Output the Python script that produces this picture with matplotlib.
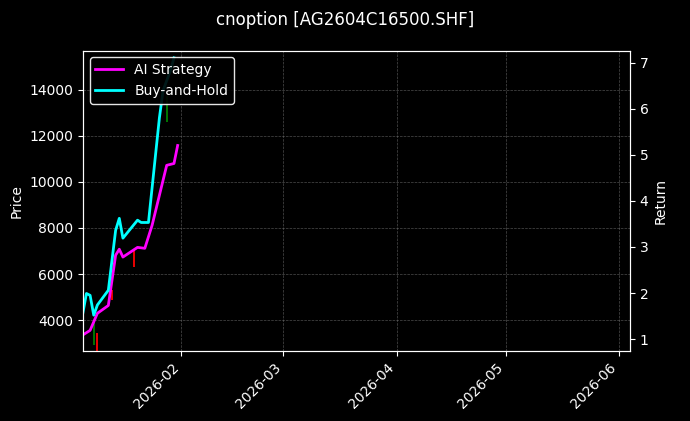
import pandas as pd
import matplotlib.pyplot as plt
import matplotlib.dates as mdates

# AI strategy / buy-and-hold returns
ai_dates = ['2026-01-05', '2026-01-07', '2026-01-09', '2026-01-12', '2026-01-14', '2026-01-15',
            '2026-01-16', '2026-01-20', '2026-01-22', '2026-01-24', '2026-01-28', '2026-01-30', '2026-01-31']
ai_ret = [1.09, 1.19, 1.56, 1.73, 2.82, 2.95, 2.78, 2.99, 2.97, 3.47, 4.77, 4.81, 5.20]

bh_dates = ['2026-01-05', '2026-01-06', '2026-01-07', '2026-01-08', '2026-01-09', '2026-01-12',
            '2026-01-14', '2026-01-15', '2026-01-16', '2026-01-20', '2026-01-21', '2026-01-23',
            '2026-01-26', '2026-01-27', '2026-01-29', '2026-01-30']
bh_ret = [1.56, 1.99, 1.95, 1.52, 1.74, 2.06, 3.36, 3.62, 3.19, 3.58, 3.53, 3.53, 5.80, 6.39, 6.82, 7.10]

# visible candle wicks (price)
c_dates = ['2026-01-05', '2026-01-08', '2026-01-09', '2026-01-13', '2026-01-19', '2026-01-28']
c_high = [4000, 3870, 3430, 5300, 7030, 13700]
c_low = [2920, 2920, 2660, 4870, 6300, 12600]
c_up = [False, True, False, False, False, True]

ai = pd.Series(ai_ret, index=pd.to_datetime(ai_dates))
bh = pd.Series(bh_ret, index=pd.to_datetime(bh_dates))

plt.style.use('dark_background')
fig, ax = plt.subplots(figsize=(6.9, 4.21), dpi=100)
fig.subplots_adjust(left=0.12, right=0.913, top=0.88, bottom=0.166)

for d, h, l, up in zip(pd.to_datetime(c_dates), c_high, c_low, c_up):
    ax.vlines(d, l, h, color='green' if up else 'red', lw=1.3)
ax.set_ylim(2660, 15690)
ax.set_ylabel('Price')
ax.grid(True, ls='--', lw=0.5, color='gray', alpha=0.6)

ax2 = ax.twinx()
ax2.plot(ai.index, ai.values, color='magenta', lw=2, label='AI Strategy')
ax2.plot(bh.index, bh.values, color='cyan', lw=2, label='Buy-and-Hold')
ax2.set_ylim(0.74, 7.26)
ax2.set_ylabel('Return')
ax2.legend(loc='upper left', edgecolor='white', framealpha=0.9)

ax.set_xlim(pd.Timestamp('2026-01-05'), pd.Timestamp('2026-06-04'))
ax.xaxis.set_major_locator(mdates.MonthLocator())
ax.xaxis.set_major_formatter(mdates.DateFormatter('%Y-%m'))
plt.setp(ax.get_xticklabels(), rotation=45, ha='right')

fig.suptitle('cnoption [AG2604C16500.SHF]', fontsize=12, y=0.975)
fig.savefig('out.png')
